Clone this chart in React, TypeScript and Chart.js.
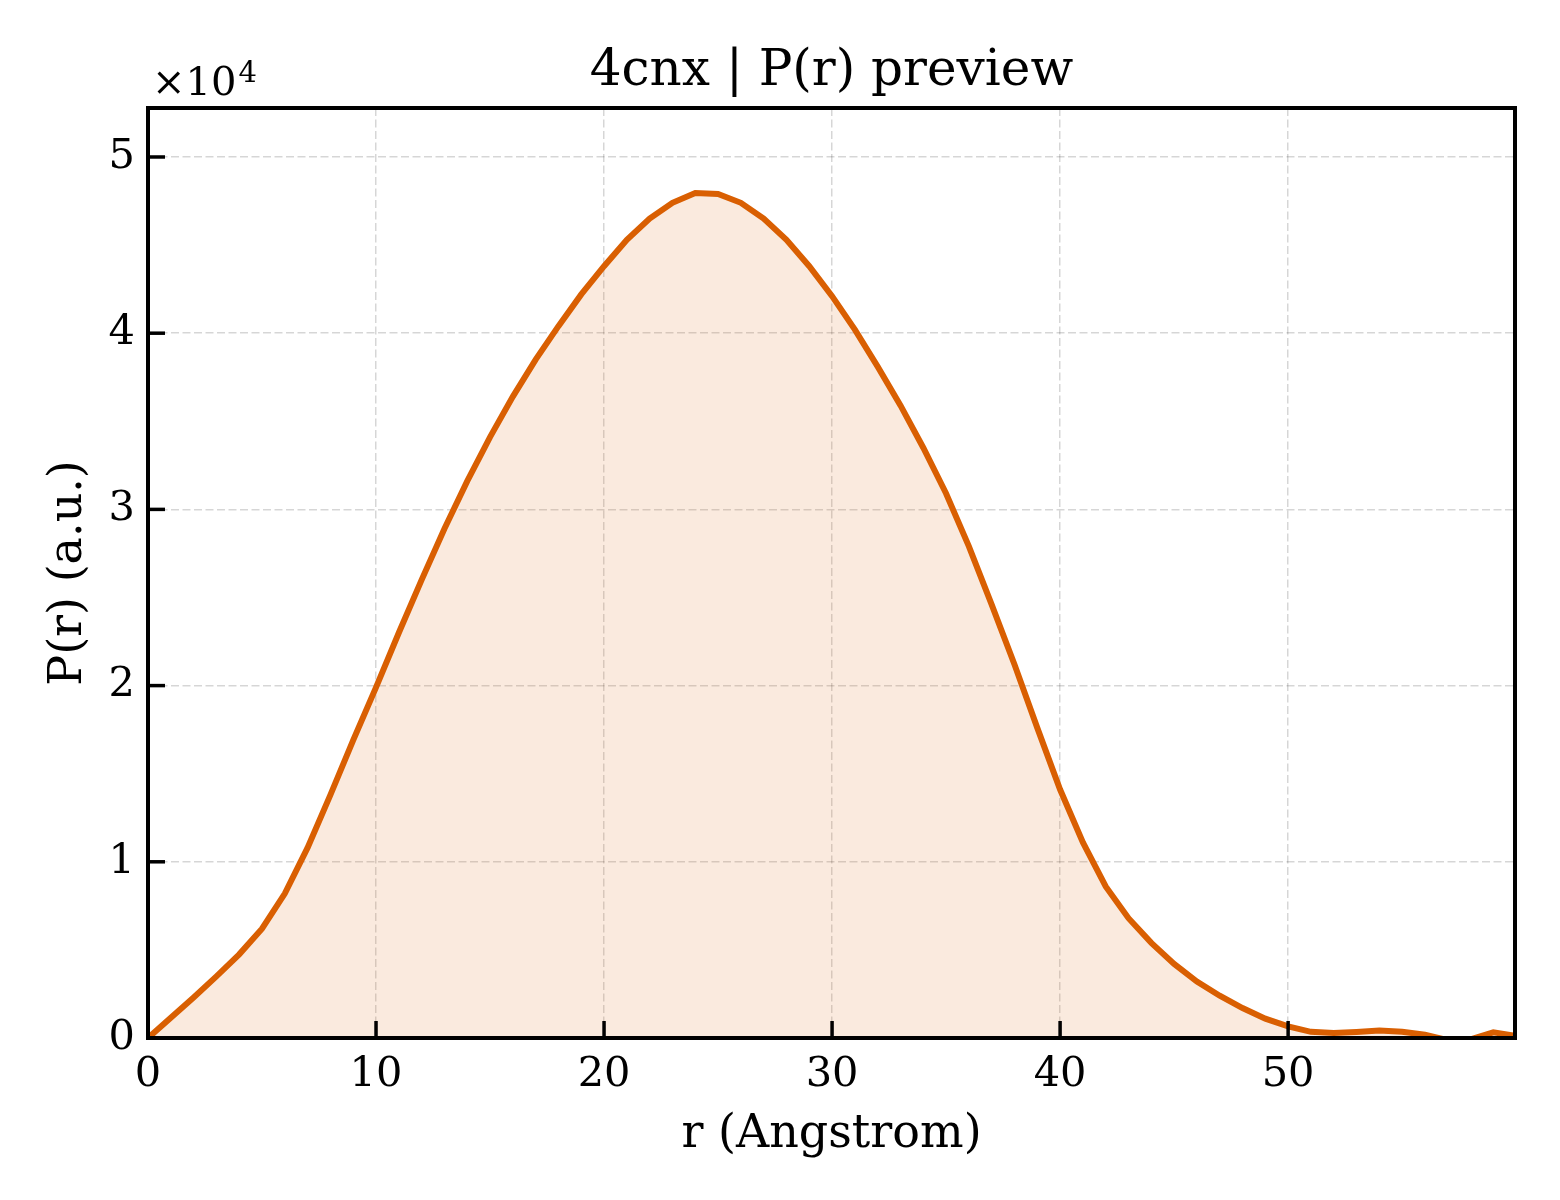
import { useEffect, useRef } from "react";
import { Chart, registerables } from "chart.js";

Chart.register(...registerables);

// r in Angstrom, P(r) in arbitrary units
const rValues = [
  0, 1, 2, 3, 4, 5, 6, 7, 8, 9, 10, 11, 12, 13, 14, 15, 16, 17, 18, 19, 20,
  21, 22, 23, 24, 25, 26, 27, 28, 29, 30, 31, 32, 33, 34, 35, 36, 37, 38, 39,
  40, 41, 42, 43, 44, 45, 46, 47, 48, 49, 50, 51, 52, 53, 54, 55, 56, 57, 58,
  59, 59.95,
];
const prValues = [
  0, 1150, 2300, 3500, 4750, 6200, 8200, 10800, 13800, 16900, 19900, 23000,
  26000, 28900, 31600, 34100, 36400, 38500, 40400, 42200, 43800, 45300, 46500,
  47400, 47950, 47900, 47400, 46500, 45300, 43800, 42100, 40200, 38100, 35900,
  33500, 30900, 27900, 24600, 21200, 17600, 14100, 11100, 8600, 6800, 5400,
  4200, 3200, 2400, 1700, 1100, 660, 350, 280, 340, 420, 350, 180, -120, -80,
  320, 130,
];
const xTicks = [0, 10, 20, 30, 40, 50];
const yTicks = [0, 10000, 20000, 30000, 40000, 50000];

const X_MAX = 59.95;
const Y_MAX = 52780;

const FONT = "'DejaVu Serif', serif";
const LINE = "#d95f02";

const decor = {
  id: "decor",
  afterDatasetsDraw(chart: any) {
    const { ctx, chartArea: a, scales } = chart;
    ctx.save();
    ctx.strokeStyle = "#000";
    ctx.lineWidth = 3.5;
    xTicks.forEach((v) => {
      const x = scales.x.getPixelForValue(v);
      ctx.beginPath();
      ctx.moveTo(x, a.bottom);
      ctx.lineTo(x, a.bottom - 17);
      ctx.stroke();
    });
    yTicks.forEach((v) => {
      const y = scales.y.getPixelForValue(v);
      ctx.beginPath();
      ctx.moveTo(a.left, y);
      ctx.lineTo(a.left + 17, y);
      ctx.stroke();
    });
    ctx.lineWidth = 4;
    ctx.strokeRect(a.left, a.top, a.right - a.left, a.bottom - a.top);
    ctx.restore();
  },
  afterDraw(chart: any) {
    const { ctx, chartArea: a } = chart;
    const cx = (a.left + a.right) / 2;
    ctx.save();
    ctx.fillStyle = "#000";
    ctx.textBaseline = "alphabetic";

    ctx.textAlign = "center";
    ctx.font = `50px ${FONT}`;
    ctx.fillText("4cnx | P(r) preview", cx, 85);

    ctx.font = `46px ${FONT}`;
    ctx.fillText("r (Angstrom)", cx, 1147);

    ctx.save();
    ctx.translate(81, (a.top + a.bottom) / 2);
    ctx.rotate(-Math.PI / 2);
    ctx.fillText("P(r) (a.u.)", 0, 0);
    ctx.restore();

    ctx.textAlign = "left";
    ctx.font = `40px ${FONT}`;
    ctx.fillText("×10", 152, 95);
    const w = ctx.measureText("×10").width;
    ctx.font = `29px ${FONT}`;
    ctx.fillText("4", 152 + w + 2, 82);
    ctx.restore();
  },
};

const App = () => {
  const canvasRef = useRef<HTMLCanvasElement | null>(null);
  const chartRef = useRef<Chart | null>(null);

  useEffect(() => {
    const ctx = canvasRef.current?.getContext("2d");
    if (!ctx) return;
    if (chartRef.current) chartRef.current.destroy();

    chartRef.current = new Chart(ctx, {
      type: "line",
      data: {
        datasets: [
          {
            data: rValues.map((r, i) => ({ x: r, y: prValues[i] })),
            borderColor: LINE,
            borderWidth: 6,
            backgroundColor: "rgba(217,95,2,0.13)",
            fill: "origin",
            pointRadius: 0,
            tension: 0,
            clip: 0,
          },
        ],
      },
      options: {
        animation: false,
        responsive: false,
        devicePixelRatio: 1,
        layout: { padding: { top: 108, right: 45, left: 0, bottom: 0 } },
        plugins: { legend: { display: false }, tooltip: { enabled: false } },
        scales: {
          x: {
            type: "linear",
            min: 0,
            max: X_MAX,
            afterFit: (s: any) => {
              s.height = 162;
            },
            afterBuildTicks: (s: any) => {
              s.ticks = xTicks.map((v) => ({ value: v }));
            },
            ticks: {
              color: "#000",
              padding: 12,
              maxRotation: 0,
              font: { family: FONT, size: 41.5 },
            },
            grid: {
              color: "rgba(0,0,0,0.16)",
              lineWidth: 1.5,
              drawTicks: false,
            },
            border: { display: false, dash: [8, 3.5] },
          },
          y: {
            type: "linear",
            min: 0,
            max: Y_MAX,
            afterFit: (s: any) => {
              s.width = 148;
            },
            afterBuildTicks: (s: any) => {
              s.ticks = yTicks.map((v) => ({ value: v }));
            },
            ticks: {
              color: "#000",
              padding: 13,
              font: { family: FONT, size: 41.5 },
              callback: (v: any) => String(Number(v) / 10000),
            },
            grid: {
              color: "rgba(0,0,0,0.16)",
              lineWidth: 1.5,
              drawTicks: false,
            },
            border: { display: false, dash: [8, 3.5] },
          },
        },
      },
      plugins: [decor],
    });

    return () => {
      if (chartRef.current) {
        chartRef.current.destroy();
        chartRef.current = null;
      }
    };
  }, []);

  return (
    <div style={{ position: "fixed", left: 0, top: 0, width: 1560, height: 1200, background: "#fff" }}>
      <canvas ref={canvasRef} width={1560} height={1200} style={{ width: "1560px", height: "1200px" }} />
    </div>
  );
};

export default App;
